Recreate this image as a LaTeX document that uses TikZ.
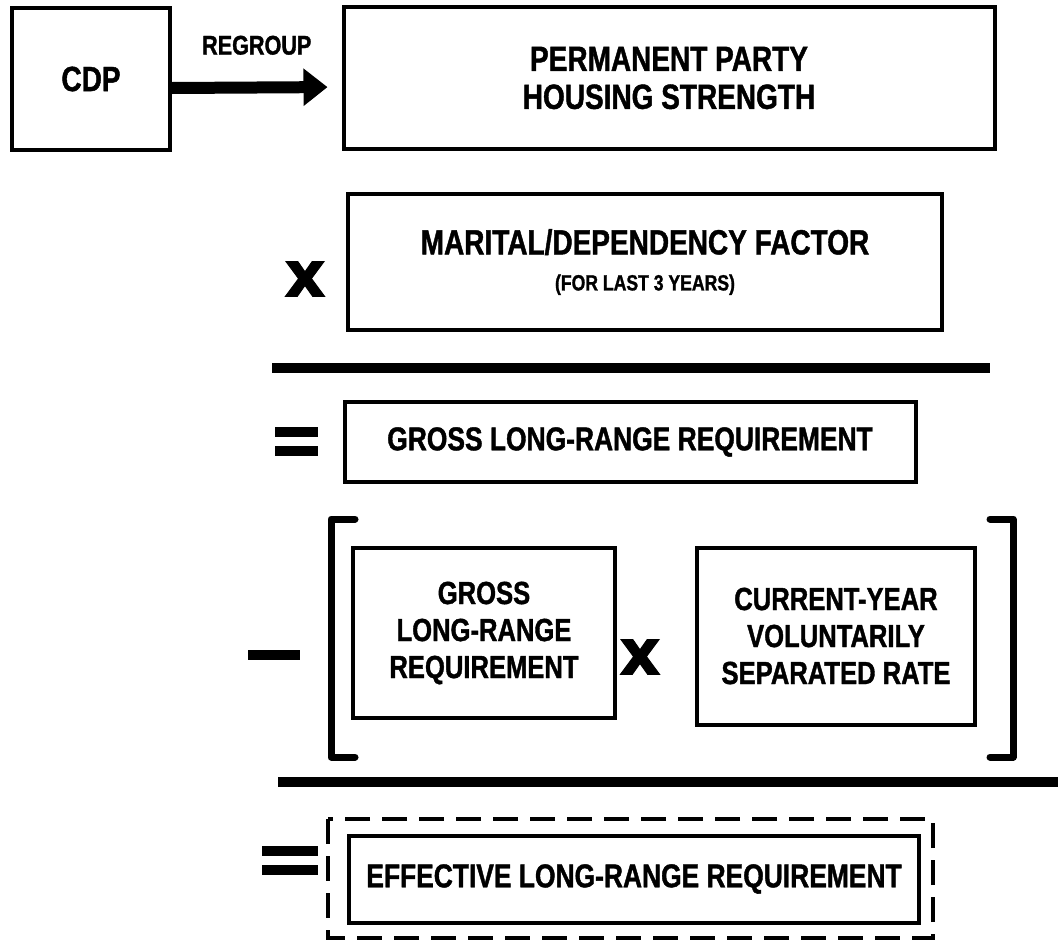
\documentclass[tikz,border=0pt]{standalone}
\usepackage{fontspec}
\setmainfont{Liberation Sans}[FakeStretch=0.8, BoldFeatures={FakeBold=1.2}]
\newfontfamily\opfont{DejaVu Sans}[BoldFeatures={FakeBold=1.5}]
\usetikzlibrary{positioning,calc,arrows.meta}

\tikzset{
  box/.style={draw, line width=2pt, align=center, inner sep=2pt,
    font=\bfseries\fontsize{17.5}{19}\selectfont},
  rule/.style={line width=5pt},
  opbar/.style={line width=5pt},
  brack/.style={line width=3.5pt, line cap=round, line join=round},
  times/.style={font=\opfont\bfseries\fontsize{32}{32}\selectfont, inner sep=0pt}
}

\begin{document}
\begin{tikzpicture}[x=0.5pt,y=-0.5pt]
    \useasboundingbox (0,0) rectangle (1058,942);

    % Top row
    \node [box, minimum width=79pt, minimum height=71pt] (cdp) at (91,79) {CDP};
    \node [box, minimum width=325.5pt, minimum height=71pt] (phs) at (669,78)
        {PERMANENT PARTY\\HOUSING STRENGTH};
    \draw [line width=6pt, -{Triangle[length=12pt, width=18pt]}, shorten >=7pt]
        ([yshift=-4.5pt]cdp.east) -- ([yshift=-4.5pt]phs.west)
        node [midway, above=10pt, font=\bfseries\fontsize{13.5}{15}\selectfont] (rg) {REGROUP};

    % Marital factor
    \node [times] (x1) at (305,279) {x};
    \node [box, minimum width=297pt, minimum height=68pt] (mdf) at (645,262)
        {MARITAL/DEPENDENCY FACTOR\\[-1pt]{\fontsize{11}{13}\selectfont (FOR LAST 3 YEARS)}};
    \draw [rule] (272,368) -- (990,368);

    % Gross requirement
    \draw [opbar] (275,432) -- (318,432);
    \draw [opbar] (275,451) -- (318,451);
    \node [box, minimum width=285.5pt, minimum height=40pt,
        font=\bfseries\fontsize{16.5}{19}\selectfont] (glr) at (630,442)
        {GROSS LONG-RANGE REQUIREMENT};

    % Separation term
    \draw [opbar] (248,655) -- (300,655);
    \draw [brack] (355,519) -- (331,519) -- (331,757) -- (355,757);
    \draw [brack] (990,519) -- (1013,519) -- (1013,757) -- (990,757);
    \node [box, minimum width=131pt, minimum height=85pt,
        font=\bfseries\fontsize{16}{18.5}\selectfont] (glr2) at (484,633)
        {GROSS\\LONG-RANGE\\REQUIREMENT};
    \node [times] (x2) at (640,657) {x};
    \node [box, minimum width=139pt, minimum height=88.5pt,
        font=\bfseries\fontsize{16}{18.5}\selectfont] (cyv) at (836,636)
        {CURRENT-YEAR\\VOLUNTARILY\\SEPARATED RATE};
    \draw [rule] (278,782) -- (1058,782);

    % Effective requirement
    \draw [opbar] (262,851) -- (318,851);
    \draw [opbar] (262,870) -- (318,870);
    \node [box, minimum width=285pt, minimum height=43.5pt,
        font=\bfseries\fontsize{16.5}{19}\selectfont] (elr) at (634,879)
        {EFFECTIVE LONG-RANGE REQUIREMENT};
    \draw [line width=2pt, dash pattern=on 12.5pt off 6pt] (328,819) rectangle (933,938);
\end{tikzpicture}
\end{document}
